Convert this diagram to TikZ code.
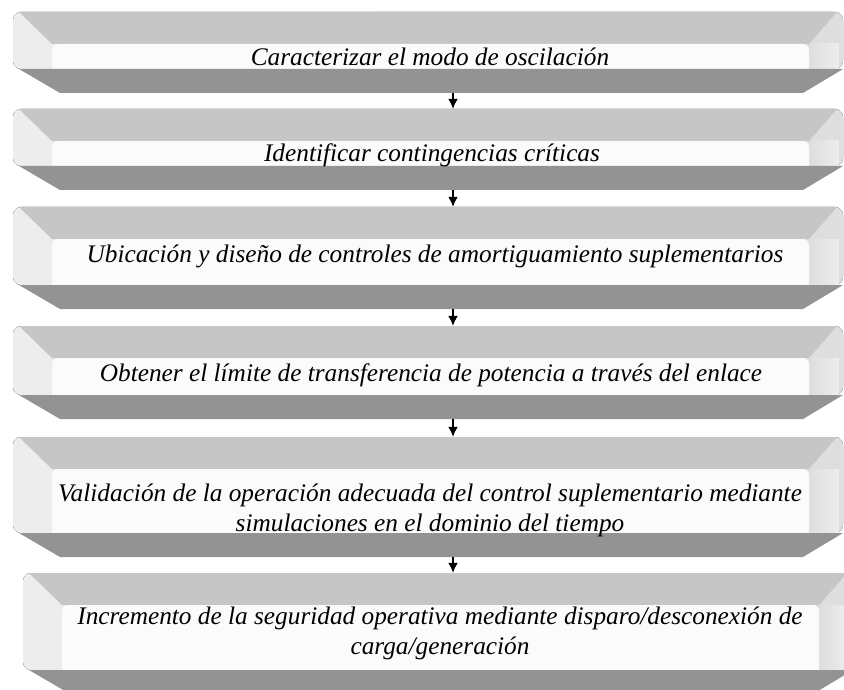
\documentclass[tikz,border=0pt]{standalone}
\usepackage{fontspec}
\setmainfont{Liberation Serif}
\usetikzlibrary{calc, arrows.meta}

\begin{document}
\begin{tikzpicture}[
  x=1pt, y=-1pt,
  caja/.style={rectangle, inner sep=0pt, minimum width=830pt,
    path picture={
      \coordinate (nw) at (path picture bounding box.north west);
      \coordinate (ne) at (path picture bounding box.north east);
      \coordinate (sw) at (path picture bounding box.south west);
      \coordinate (se) at (path picture bounding box.south east);
      % biseles laterales
      \fill[left color=gray!14, right color=gray!26, rounded corners=8pt]
        (nw) rectangle ($(se)+(0,-24)$);
      \fill[right color=gray!14, left color=gray!26]
        ($(ne)+(-34,32)$) rectangle ($(se)+(-4,-24)$);
      % bisel superior
      \fill[gray!45] ($(nw)+(6,0)$) -- ($(ne)+(-6,0)$) -- ($(ne)+(-34,32)$)
        -- ($(nw)+(39,32)$) -- cycle;
      % cara
      \fill[gray!3, rounded corners=6pt] ($(sw)+(39,-19)$) -- ($(nw)+(39,32)$)
        -- ($(ne)+(-34,32)$) -- ($(se)+(-34,-19)$) -- cycle;
      % banda inferior
      \fill[gray!85] ($(sw)+(6,-24)$) -- ($(se)+(0,-24)$) -- ($(se)+(-40,0)$)
        -- ($(sw)+(47,0)$) -- cycle;
    }},
  texto/.style={align=center, font=\fontsize{25.3}{30}\selectfont\itshape, inner sep=0pt},
  flecha/.style={-{Latex[length=10pt,width=10pt]}, line width=1.6pt}]

  \useasboundingbox (0,0) rectangle (844,690);

  % Cajas
  \node[caja, minimum height=81pt]  (b1) at (428,52.5) {};
  \node[caja, minimum height=81pt]  (b2) at (428,149.5) {};
  \node[caja, minimum height=102pt] (b3) at (428,258) {};
  \node[caja, minimum height=93pt]  (b4) at (428,372.5) {};
  \node[caja, minimum height=120pt] (b5) at (428,497) {};
  \node[caja, minimum height=121pt] (b6) at (438,633.5) {};

  % Textos
  \node[texto] (t1) at (430,57) {Caracterizar el modo de oscilación};
  \node[texto] (t2) at (432,155) {Identificar contingencias críticas};
  \node[texto] (t3) at (435,256) {Ubicación y diseño de controles de amortiguamiento suplementarios};
  \node[texto] (t4) at (431,375) {Obtener el límite de transferencia de potencia a través del enlace};
  \node[texto] (t5) at (430,510) {Validación de la operación adecuada del control suplementario mediante\\ simulaciones en el dominio del tiempo};
  \node[texto] (t6) at (440,633) {Incremento de la seguridad operativa mediante disparo/desconexión de\\ carga/generación};

  % Flechas
  \coordinate (eje) at (453,0);
  \draw[flecha] (b1.south -| eje) -- (b2.north -| eje);
  \draw[flecha] (b2.south -| eje) -- (b3.north -| eje);
  \draw[flecha] (b3.south -| eje) -- (b4.north -| eje);
  \draw[flecha] (b4.south -| eje) -- (b5.north -| eje);
  \draw[flecha] (b5.south -| eje) -- (b6.north -| eje);

\end{tikzpicture}
\end{document}
